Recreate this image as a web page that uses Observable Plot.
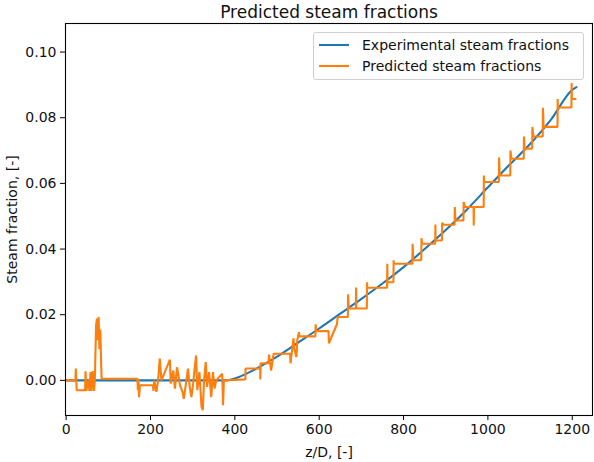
<!DOCTYPE html>
<html>
<head>
<meta charset="utf-8">
<script src="https://cdn.jsdelivr.net/npm/d3@7"></script>
<script src="https://cdn.jsdelivr.net/npm/@observablehq/plot@0.6"></script>
<style>
  html, body { margin: 0; padding: 0; background: white; }
  #wrap { position: relative; width: 594px; height: 462px; }
  .legend { position: absolute; left: 313px; top: 32px; width: 271px; height: 48px;
    border: 1px solid #d0d0d0; border-radius: 3px; background: rgba(255,255,255,0.8);
    font-family: "DejaVu Sans"; font-size: 14px; color: #111; box-sizing: border-box; }
  .row { position: absolute; left: 0; height: 20px; display: flex; align-items: center; }
  .row svg { margin-left: 5px; margin-right: 13px; }
</style>
</head>
<body>
<div id="wrap"></div>
<script>
const title = "Predicted steam fractions";
const xLabel = "z/D, [-]";
const yLabel = "Steam fraction, [-]";
const xTicks = [0, 200, 400, 600, 800, 1000, 1200];
const yTicks = [0.00, 0.02, 0.04, 0.06, 0.08, 0.10];
const seriesNames = ["Experimental steam fractions", "Predicted steam fractions"];
const seriesColors = ["#1f77b4", "#ff7f0e"];

// [z/D, steam fraction]
const experimental = [
  [0, 0], [380, 0], [400, 0.0006], [450, 0.0035], [500, 0.0072], [550, 0.0115],
  [600, 0.0158], [650, 0.0203], [700, 0.0248], [750, 0.0295], [800, 0.0345],
  [850, 0.0400], [900, 0.0458], [950, 0.0520], [1000, 0.0588], [1050, 0.0655],
  [1100, 0.0720], [1150, 0.0795], [1200, 0.0885], [1210, 0.0893]
];

const predicted = [
  [0, 0], [22, 0], [23, 0.0036], [25, -0.003], [45, -0.003], [46, 0.0028], [48, -0.0032],
  [53, 0], [55, -0.0032], [58, 0.0025], [60, -0.0032], [63, 0.0028], [66, -0.0032], [68, 0],
  [71, 0.0168], [73, 0.0188], [75, 0.0122], [77, 0.0193], [79, 0.0095], [81, 0.0155],
  [84, 0.0005], [169, 0.0005], [170, -0.003], [171.5, 0.0005], [173, -0.0051], [175, -0.0015],
  [206, -0.0015], [207, -0.0032], [209, 0], [214, -0.0035], [218, 0], [222, 0.0066], [226, 0],
  [246, 0.0063], [248, -0.001], [254, 0.003], [258, -0.0025], [263, 0.004], [270, -0.0015],
  [276, -0.0035], [279, -0.0056], [284, -0.001], [289, 0.0036], [293, -0.002], [297, -0.0051],
  [301, -0.001], [308, 0.0076], [311, -0.003], [316, 0.0025], [321, -0.0081], [324, -0.0091],
  [327, 0], [331, 0.0056], [334, -0.002], [339, 0.0025], [344, -0.0051], [348, 0.0025],
  [352, -0.0025], [356, 0], [370, 0.002], [372, -0.0076], [374, 0], [425, 0.0003],
  [425.5, 0.0036], [460, 0.0036], [460.5, 0.0003], [461, 0.0052], [480, 0.0052], [481, 0.0079],
  [486, 0.003], [492, 0.0081], [531, 0.0081], [532, 0.0052], [539, 0.0128], [541, 0.0096],
  [546, 0.0071], [548, 0.0122], [552, 0.0147], [553, 0.0134], [591, 0.0134], [591.5, 0.0171],
  [593, 0.015], [622, 0.015], [623, 0.0113], [642, 0.0171], [644, 0.0193], [668, 0.0193],
  [668.5, 0.0262], [670, 0.0219], [687, 0.0219], [687.5, 0.0283], [688, 0.0219], [713, 0.0219],
  [713.5, 0.0299], [714, 0.0282], [761, 0.0282], [761.5, 0.0355], [762, 0.0299], [776, 0.0299],
  [776.5, 0.0366], [777, 0.0355], [821, 0.0355], [821.5, 0.0416], [823, 0.0366], [842, 0.0366],
  [842.5, 0.0433], [844, 0.0416], [875, 0.0416], [875.5, 0.0475], [876, 0.0426], [891, 0.0426],
  [891.5, 0.048], [895, 0.0474], [921, 0.0474], [921.5, 0.0528], [923, 0.0487], [942, 0.0487],
  [942.5, 0.0543], [946, 0.0528], [966, 0.0528], [966.5, 0.0472], [967, 0.0528], [990, 0.0528],
  [990.5, 0.0624], [991, 0.0604], [1026, 0.0604], [1026.5, 0.0679], [1028, 0.0624], [1053, 0.0624],
  [1053.5, 0.070], [1056, 0.0675], [1085, 0.0675], [1085.5, 0.0743], [1087, 0.0706], [1105, 0.0706],
  [1105.5, 0.0772], [1108, 0.0743], [1130, 0.0743], [1130.5, 0.083], [1132, 0.0772], [1165, 0.0772],
  [1165.5, 0.0857], [1166, 0.0831], [1198, 0.0831], [1198.5, 0.0906], [1199, 0.0857], [1208, 0.0857]
];

const chart = Plot.plot({
  width: 594,
  height: 462,
  marginLeft: 65,
  marginRight: 2,
  marginTop: 23,
  marginBottom: 47,
  style: { fontFamily: "DejaVu Sans", fontSize: "14px", color: "#111", background: "white" },
  x: { domain: [-1.5, 1248] },
  y: { domain: [-0.0107, 0.1087] },
  marks: [
    Plot.line(experimental, { x: d => d[0], y: d => d[1], stroke: seriesColors[0], strokeWidth: 2.1, curve: "monotone-x" }),
    Plot.line(predicted, { x: d => d[0], y: d => d[1], stroke: seriesColors[1], strokeWidth: 2.1, strokeLinejoin: "miter" }),
    Plot.frame({ stroke: "black", strokeWidth: 1.1 }),
    Plot.axisX({ ticks: xTicks, tickFormat: d => String(d), tickSize: 5, tickPadding: 4, stroke: "black", label: xLabel, labelAnchor: "center", labelArrow: "none", labelOffset: 41 }),
    Plot.axisY({ ticks: yTicks, tickFormat: d3.format(".2f"), tickSize: 5, tickPadding: 4, stroke: "black", label: yLabel, labelAnchor: "center", labelArrow: "none", labelOffset: 58 }),
    Plot.text([title], { text: d => d, frameAnchor: "top", lineAnchor: "bottom", dy: -6, fontSize: 17 })
  ]
});

const wrap = document.getElementById("wrap");
wrap.appendChild(chart);

const legend = document.createElement("div");
legend.className = "legend";
seriesNames.forEach((name, i) => {
  const row = document.createElement("div");
  row.className = "row";
  row.style.top = (2 + i * 21) + "px";
  row.innerHTML = `<svg width="30" height="4"><line x1="0" y1="2" x2="30" y2="2" stroke="${seriesColors[i]}" stroke-width="2.1"/></svg><span>${name}</span>`;
  legend.appendChild(row);
});
wrap.appendChild(legend);
</script>
</body>
</html>
